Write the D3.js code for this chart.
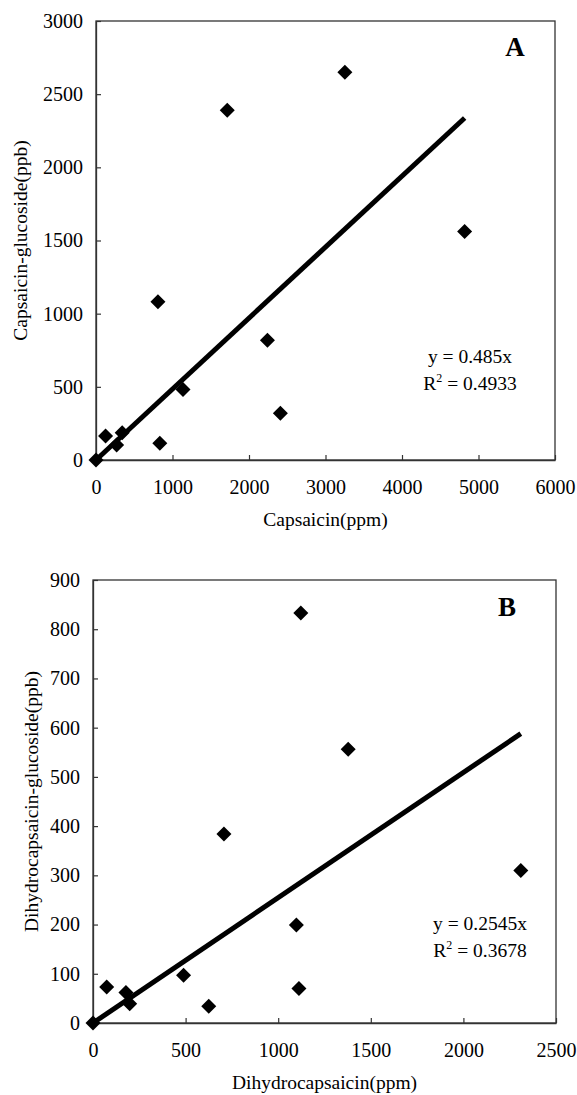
<!DOCTYPE html>
<html>
<head>
<meta charset="utf-8">
<script src="https://cdn.jsdelivr.net/npm/d3@7"></script>
<style>
  body { margin: 0; background: #fff; }
  svg text { font-family: "Liberation Serif", "Times New Roman", serif; fill: #000; }
</style>
</head>
<body>
<svg id="viz"></svg>
<script>
/* Data */

// panel A: capsaicin (ppm) vs capsaicin-glucoside (ppb)
const capsaicin = [0, 125, 270, 342, 834, 810, 1137, 1716, 2241, 2410, 3253, 4819];
const capGlucoside = [0, 164, 102, 187, 114, 1081, 482, 2390, 819, 319, 2649, 1561];
const slopeA = 0.485;
const xTicksA = [0, 1000, 2000, 3000, 4000, 5000, 6000];
const yTicksA = [0, 500, 1000, 1500, 2000, 2500, 3000];

// panel B: dihydrocapsaicin (ppm) vs dihydrocapsaicin-glucoside (ppb)
const dihydro = [0, 74, 178, 198, 489, 625, 707, 1098, 1112, 1122, 1378, 2310];
const dihydroGlucoside = [0, 73, 62, 39, 97, 34, 384, 199, 70, 833, 556, 310];
const slopeB = 0.2545;
const xTicksB = [0, 500, 1000, 1500, 2000, 2500];
const yTicksB = [0, 100, 200, 300, 400, 500, 600, 700, 800, 900];

/* Environment */

const width = 577;
const height = 1095;

const svg = d3.select('#viz')
    .attr('width', width)
    .attr('height', height);

const panels = [
  {
    x: capsaicin, y: capGlucoside, slope: slopeA,
    xTicks: xTicksA, yTicks: yTicksA,
    box: {left: 96, right: 555, top: 21, bottom: 460},
    xTitle: "Capsaicin(ppm)", yTitle: "Capsaicin-glucoside(ppb)",
    yTitleX: 20, letter: "A", letterPos: [515, 56],
    eq: "y = 0.485x", r2: "0.4933", eqPos: [470, 363, 390]
  },
  {
    x: dihydro, y: dihydroGlucoside, slope: slopeB,
    xTicks: xTicksB, yTicks: yTicksB,
    box: {left: 93, right: 556, top: 580, bottom: 1023},
    xTitle: "Dihydrocapsaicin(ppm)", yTitle: "Dihydrocapsaicin-glucoside(ppb)",
    yTitleX: 31, letter: "B", letterPos: [507, 616],
    eq: "y = 0.2545x", r2: "0.3678", eqPos: [480, 930, 957]
  }
];

// diamond marker
const diamond = r => `M0,${-r}L${r},0L0,${r}L${-r},0Z`;

panels.forEach(p => {
  const b = p.box;
  const g = svg.append("g");

  /* Scales */

  const x = d3.scaleLinear()
      .domain(d3.extent(p.xTicks))
      .range([b.left, b.right]);

  const y = d3.scaleLinear()
      .domain(d3.extent(p.yTicks))
      .range([b.bottom, b.top]);

  /* Frame */

  g.append("rect")
      .attr("x", b.left)
      .attr("y", b.top)
      .attr("width", b.right - b.left)
      .attr("height", b.bottom - b.top)
      .attr("fill", "none")
      .attr("stroke", "#333")
      .attr("stroke-width", 1.3);

  /* Axis */

  const gx = g.append("g")
      .attr("transform", `translate(0,${b.bottom})`)
      .call(d3.axisBottom(x).tickValues(p.xTicks).tickFormat(d3.format("d"))
        .tickSize(-5).tickPadding(20).tickSizeOuter(0));

  const gy = g.append("g")
      .attr("transform", `translate(${b.left},0)`)
      .call(d3.axisLeft(y).tickValues(p.yTicks).tickFormat(d3.format("d"))
        .tickSize(-5).tickPadding(13).tickSizeOuter(0));

  [gx, gy].forEach(a => {
    a.attr("font-family", null);
    a.select(".domain").attr("stroke", "#333").attr("stroke-width", 1.3);
    a.selectAll(".tick line").attr("stroke", "#333").attr("stroke-width", 1.2);
    a.selectAll(".tick text").attr("font-size", 20);
  });

  /* Titles */

  g.append("text")
      .attr("x", (b.left + b.right) / 2)
      .attr("y", b.bottom + 66)
      .attr("text-anchor", "middle")
      .attr("font-size", 19.5)
      .text(p.xTitle);

  g.append("text")
      .attr("transform", `translate(${p.yTitleX},${(b.top + b.bottom) / 2}) rotate(-90)`)
      .attr("text-anchor", "middle")
      .attr("dy", "0.35em")
      .attr("font-size", 19.5)
      .text(p.yTitle);

  g.append("text")
      .attr("x", p.letterPos[0])
      .attr("y", p.letterPos[1])
      .attr("text-anchor", "middle")
      .attr("font-size", 27)
      .attr("font-weight", "bold")
      .text(p.letter);

  /* Trend line */

  const xMax = d3.max(p.x);
  g.append("line")
      .attr("x1", x(0))
      .attr("y1", y(0))
      .attr("x2", x(xMax))
      .attr("y2", y(p.slope * xMax))
      .attr("stroke", "#000")
      .attr("stroke-width", 5);

  /* Points */

  g.selectAll("path.pt")
      .data(d3.range(p.x.length))
      .enter().append("path")
      .attr("class", "pt")
      .attr("transform", i => `translate(${x(p.x[i])},${y(p.y[i])})`)
      .attr("d", diamond(7.5))
      .attr("fill", "#000");

  /* Equation */

  g.append("text")
      .attr("x", p.eqPos[0])
      .attr("y", p.eqPos[1])
      .attr("text-anchor", "middle")
      .attr("font-size", 19.5)
      .text(p.eq);

  const r2 = g.append("text")
      .attr("x", p.eqPos[0])
      .attr("y", p.eqPos[2])
      .attr("text-anchor", "middle")
      .attr("font-size", 19.5);
  r2.append("tspan").text("R");
  r2.append("tspan").attr("font-size", 12).attr("dy", -8).text("2");
  r2.append("tspan").attr("dy", 8).text(" = " + p.r2);
});
</script>
</body>
</html>
